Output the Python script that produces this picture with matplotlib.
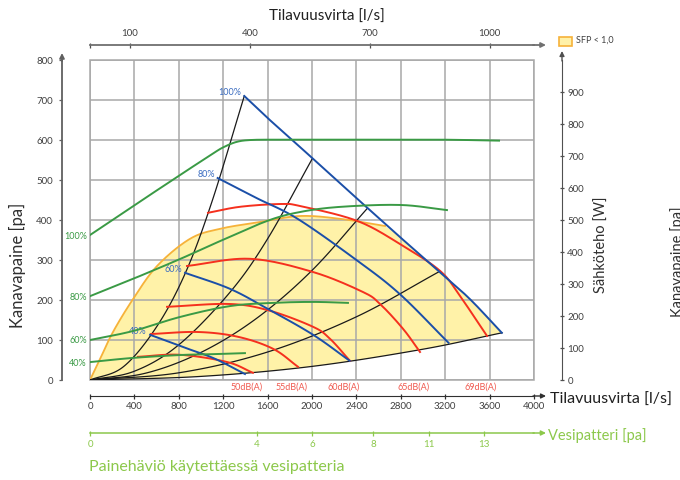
import numpy as np
import matplotlib
matplotlib.use("Agg")
import matplotlib.pyplot as plt
from matplotlib.patches import Rectangle

plt.rcParams["font.family"] = ["Lato", "DejaVu Sans"]

# ---------------- data ----------------
# Fan curves: airflow [m3/h] vs duct pressure [Pa] per speed setting
fan100_q = [1390, 1600, 1890, 2160, 2460, 2790, 3150, 3420, 3710]
fan100_p = [710, 655, 583, 515, 440, 358, 270, 203, 118]
fan80_q = [1150, 1500, 1870, 2400, 2790, 3230]
fan80_p = [505, 455, 403, 300, 215, 93]
fan60_q = [856, 1260, 1600, 2010, 2340]
fan60_p = [268, 228, 178, 113, 48]
fan40_q = [541, 883, 1126, 1396]
fan40_p = [113, 78, 53, 15]
fan_labels = ["100%", "80%", "60%", "40%"]

# Electrical power [W] per speed setting
pow100_q = [0, 400, 800, 1100, 1200, 1320, 1450, 1700, 2342, 3153, 3685]
pow100_w = [453, 546, 638, 706, 727, 744, 750, 751, 751, 751, 748]
pow80_q = [0, 387, 811, 1171, 1595, 1892, 2252, 2793, 3216]
pow80_w = [262, 316, 378, 434, 497, 525, 541, 547, 531]
pow60_q = [0, 387, 811, 1261, 1649, 2009, 2324]
pow60_w = [125, 153, 197, 231, 241, 244, 241]
pow40_q = [0, 387, 811, 1126, 1396]
pow40_w = [56, 69, 78, 81, 84]

# Sound level curves
snd69_q = [1063, 1351, 1712, 1892, 2405, 2793, 3153, 3333, 3577]
snd69_p = [418, 433, 440, 435, 398, 340, 273, 210, 110]
snd65_q = [874, 1441, 2009, 2459, 2613, 2820, 2973]
snd65_p = [285, 303, 270, 220, 190, 128, 70]
snd60_q = [694, 1261, 1622, 2009, 2162, 2342]
snd60_p = [183, 190, 173, 133, 103, 48]
snd55_q = [550, 973, 1333, 1649, 1874]
snd55_p = [115, 120, 108, 78, 33]
snd50_q = [432, 811, 1234, 1468]
snd50_p = [58, 63, 45, 18]
snd_labels = ["69dB(A)", "65dB(A)", "60dB(A)", "55dB(A)", "50dB(A)"]

# System (duct) curves
sys1_q = [0, 300, 600, 860, 1100, 1390]
sys1_p = [0, 33, 133, 268, 447, 710]
sys2_q = [0, 400, 800, 1260, 1600, 2000]
sys2_p = [0, 22, 88, 219, 353, 552]
sys3_q = [0, 500, 1000, 1500, 2000, 2495]
sys3_p = [0, 17, 69, 154, 274, 428]
sys4_q = [0, 800, 1600, 2400, 3153]
sys4_p = [0, 18, 70, 158, 272]
sysmin_q = [0, 1000, 2000, 3000, 3712]
sysmin_p = [0, 9, 34, 77, 118]

# Upper-left edge of the SFP < 1,0 region
sfp_q = [0, 90, 207, 387, 604, 901, 1171, 1532, 1892, 2252, 2658]
sfp_p = [0, 52, 120, 202, 285, 353, 378, 395, 410, 403, 385]

# Axis ticks
flow_ticks = list(range(0, 4001, 400))
pressure_ticks = list(range(0, 801, 100))
power_ticks = list(range(0, 901, 100))
ls_ticks = [0, 100, 400, 700, 1000]
coil_ticks_q = [0, 1500, 2000, 2550, 3050, 3550]
coil_labels = ["0", "4", "6", "8", "11", "13"]

# ---------------- styling ----------------
BLUE = "#1b4fa8"
RED = "#f5301e"
GREEN = "#3a9a45"
BLACK = "#1a1a1a"
GRID = "#a8a8a8"
LGREEN = "#8cc84b"
FILL = "#fff2a8"
ORANGE = "#f6b23a"
TXT = "#404040"

W, H = 680, 481


def smooth(xs, ys, n=24):
    """Catmull-Rom curve through the given points."""
    pts = np.column_stack([xs, ys]).astype(float)
    if len(pts) < 3:
        return pts.T
    p = np.vstack([2 * pts[0] - pts[1], pts, 2 * pts[-1] - pts[-2]])
    t = np.linspace(0, 1, n, endpoint=False)[:, None]
    segs = []
    for i in range(1, len(p) - 2):
        p0, p1, p2, p3 = p[i - 1], p[i], p[i + 1], p[i + 2]
        segs.append(0.5 * (2 * p1 + (-p0 + p2) * t
                           + (2 * p0 - 5 * p1 + 4 * p2 - p3) * t ** 2
                           + (-p0 + 3 * p1 - 3 * p2 + p3) * t ** 3))
    segs.append(pts[-1:])
    return np.vstack(segs).T


def ftext(x, y, s, **kw):
    fig.text(x / W, 1 - y / H, s, **kw)


def arrow(x0, y0, x1, y1, color, lw=1.0):
    ax.annotate("", xy=(x1, H - y1), xycoords="figure pixels",
                xytext=(x0, H - y0), textcoords="figure pixels",
                annotation_clip=False,
                arrowprops=dict(arrowstyle="-|>", color=color, lw=lw,
                                shrinkA=0, shrinkB=0, mutation_scale=7))


fig = plt.figure(figsize=(6.8, 4.81), dpi=100)
ax = fig.add_axes([90 / W, 100 / H, 444 / W, 320 / H])
ax.set_xlim(0, 4000)
ax.set_ylim(0, 800)
ax.set_xticks(flow_ticks)
ax.set_yticks(pressure_ticks)
ax.set_axisbelow(True)
ax.grid(True, color=GRID, lw=1.1)
ax.add_patch(Rectangle((0, 0), 1, 1, transform=ax.transAxes, fill=False,
                       ec=GRID, lw=1.1, clip_on=False, zorder=0.6))

ax.spines["top"].set_visible(False)
ax.spines["right"].set_visible(False)
ax.spines["bottom"].set_position(("outward", 11.5))
ax.spines["bottom"].set_color("#303030")
ax.spines["left"].set_position(("outward", 20.2))
ax.spines["left"].set_color("#606060")
ax.spines["left"].set_linewidth(1.3)
ax.tick_params(axis="x", direction="inout", length=3.6, width=0.9,
               color="#303030", labelsize=7, labelcolor=TXT, pad=1.8)
ax.tick_params(axis="y", direction="out", length=2.2, width=0.9,
               color="#606060", labelsize=7, labelcolor=TXT, pad=4.3)

# SFP < 1,0 area
edge = smooth(sfp_q, sfp_p)
bq = [sfp_q[-1]] + [q for q in fan100_q if q > sfp_q[-1]]
bp = [sfp_p[-1]] + [p for q, p in zip(fan100_q, fan100_p) if q > sfp_q[-1]]
side = smooth(bq, bp)
base = smooth(sysmin_q, sysmin_p)
ax.fill(np.concatenate([edge[0], side[0], base[0][::-1]]),
        np.concatenate([edge[1], side[1], base[1][::-1]]),
        color=FILL, lw=0, zorder=0.3)
ax.plot(edge[0], edge[1], color=ORANGE, lw=1.3, zorder=1.5)

# System curves
for q, p in [(sys1_q, sys1_p), (sys2_q, sys2_p), (sys3_q, sys3_p),
             (sys4_q, sys4_p), (sysmin_q, sysmin_p)]:
    c = smooth(q, p)
    ax.plot(c[0], c[1], color=BLACK, lw=0.9, zorder=2)

# Sound level curves
for (q, p), lab in zip([(snd69_q, snd69_p), (snd65_q, snd65_p),
                        (snd60_q, snd60_p), (snd55_q, snd55_p),
                        (snd50_q, snd50_p)], snd_labels):
    c = smooth(q, p)
    ax.plot(c[0], c[1], color=RED, lw=1.4, zorder=3)
    ax.annotate(lab, xy=(q[-1], 0), xytext=(-6, -2), textcoords="offset pixels",
                ha="center", va="top", fontsize=6.5, color="#f05a50",
                annotation_clip=False)

# Fan curves
for (q, p), lab in zip([(fan100_q, fan100_p), (fan80_q, fan80_p),
                        (fan60_q, fan60_p), (fan40_q, fan40_p)], fan_labels):
    c = smooth(q, p)
    ax.plot(c[0], c[1], color=BLUE, lw=1.4, zorder=4)
    ax.annotate(lab, xy=(q[0], p[0]), xytext=(-3, 4), textcoords="offset pixels",
                ha="right", va="center", fontsize=6.5, color="#3a6cc0")

# Power axis (right)
axr = ax.twinx()
axr.set_ylim(0, 1000)
axr.set_yticks(power_ticks)
for s in ["top", "left", "bottom"]:
    axr.spines[s].set_visible(False)
axr.spines["right"].set_position(("outward", 20.2))
axr.spines["right"].set_color("#505050")
axr.tick_params(axis="y", direction="inout", length=2.5, width=0.9,
                color="#505050", labelsize=7, labelcolor=TXT, pad=2.5)

for (q, w), lab in zip([(pow100_q, pow100_w), (pow80_q, pow80_w),
                        (pow60_q, pow60_w), (pow40_q, pow40_w)], fan_labels):
    c = smooth(q, w)
    axr.plot(c[0], c[1], color=GREEN, lw=1.4, zorder=5)
    axr.annotate(lab, xy=(0, w[0]), xytext=(-3, 0), textcoords="offset pixels",
                 ha="right", va="center", fontsize=6.5, color=GREEN,
                 annotation_clip=False)

# Airflow in l/s (top)
secx = ax.secondary_xaxis(1 + 15 / 320, functions=(lambda q: q / 3.6,
                                                    lambda v: v * 3.6))
secx.set_xticks(ls_ticks, labels=[""] + [str(v) for v in ls_ticks[1:]])
secx.spines["top"].set_color("#707070")
secx.spines["top"].set_linewidth(1.3)
secx.tick_params(axis="x", direction="inout", length=3.6, width=0.9,
                 color="#505050", labelsize=7, labelcolor=TXT, pad=4)

# Water coil pressure drop (bottom, green)
secg = ax.secondary_xaxis(-53 / 320)
secg.set_xticks(coil_ticks_q, labels=coil_labels)
secg.spines["bottom"].set_color(LGREEN)
secg.spines["bottom"].set_linewidth(1.1)
secg.tick_params(axis="x", direction="inout", length=3.6, width=0.9,
                 color=LGREEN, labelsize=7, labelcolor=LGREEN, pad=2.5)

# Axis arrow heads
arrow(533, 397, 546, 397, "#303030")
arrow(533, 46, 546, 46, "#707070", lw=1.3)
arrow(533, 434, 546, 434, LGREEN, lw=1.1)
arrow(62, 62, 62, 54, "#606060", lw=1.3)
arrow(562, 62, 562, 52, "#505050")

# Titles and axis labels
ftext(327, 17, "Tilavuusvirta [l/s]", ha="center", va="center",
      fontsize=11, color="#202020")
ftext(550, 400, "Tilavuusvirta [l/s]", ha="left", va="center",
      fontsize=11.5, color="#202020")
ftext(548, 436, "Vesipatteri [pa]", ha="left", va="center",
      fontsize=10.5, color=LGREEN)
ftext(89, 467, "Painehäviö käytettäessä vesipatteria", ha="left",
      va="center", fontsize=11.5, color=LGREEN)
ftext(17, 265, "Kanavapaine [pa]", rotation=90, ha="center", va="center",
      fontsize=12, color="#303030")
ftext(602, 245, "Sähköteho [W]", rotation=90, ha="center", va="center",
      fontsize=10.5, color="#303030")
ftext(678, 262, "Kanavapaine [pa]", rotation=90, ha="center", va="center",
      fontsize=10.5, color="#303030")

# Legend
fig.add_artist(Rectangle((559 / W, 1 - 47 / H), 13 / W, 9 / H,
                         transform=fig.transFigure, fc="#fff1a8",
                         ec=ORANGE, lw=1.2))
ftext(576, 40, "SFP < 1,0", ha="left", va="center", fontsize=6.5,
      color=TXT)

fig.savefig("out.png", dpi=100)
